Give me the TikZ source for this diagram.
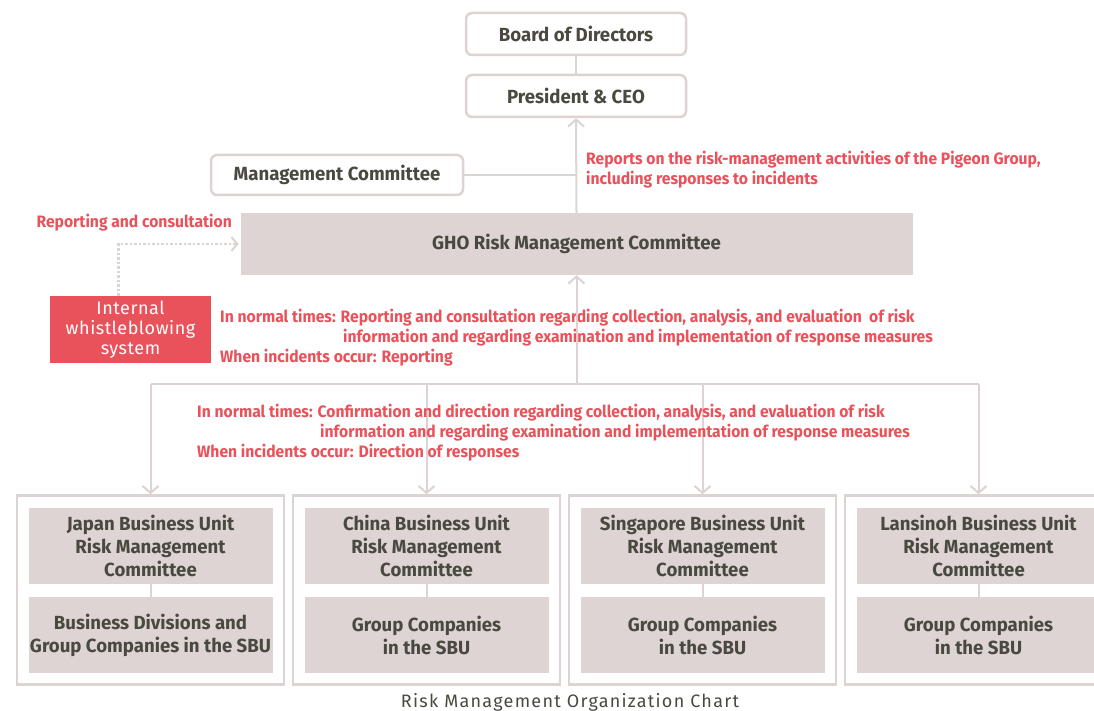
\documentclass[tikz,border=0pt]{standalone}
\usepackage{fontspec}
\setmainfont{Fira Sans}
\newfontfamily\narrowfont[FakeStretch=0.95]{Fira Sans}
\newfontfamily\boxfont[FakeStretch=0.98]{Fira Sans}
\newfontfamily\spacedfont[LetterSpace=7]{Fira Sans}
\newfontfamily\whistlefont[LetterSpace=3]{Fira Sans}
\usetikzlibrary{arrows.meta,positioning}
\definecolor{linegray}{HTML}{DDD3D2}
\definecolor{boxfill}{HTML}{DDD4D3}
\definecolor{textdark}{HTML}{4A4940}
\definecolor{pigeonred}{HTML}{E9525A}
\tikzset{
  topbox/.style={draw=linegray, line width=2.5pt, rounded corners=6pt, fill=white, align=center, text=textdark, minimum width=220pt, minimum height=42pt, font=\boxfont\bfseries\fontsize{19}{22}\selectfont},
  fillbox/.style={fill=boxfill, align=center, text=textdark, inner sep=0pt, font=\boxfont\bfseries\fontsize{19}{23}\selectfont},
  sbubox/.style={draw=linegray, line width=2.5pt, minimum width=267pt, minimum height=189pt},
  whistlebox/.style={fill=pigeonred, text=white, align=center, minimum width=161pt, minimum height=67pt, inner sep=0pt, font=\whistlefont\fontsize{18}{20}\selectfont},
  redtext/.style={text=pigeonred, align=left, inner sep=0pt, font=\narrowfont\bfseries\fontsize{16.5}{20}\selectfont},
  line/.style={draw=linegray, line width=2pt},
  arrow/.style={line, -{Straight Barb[length=7pt,width=16pt,line width=2pt]}},
  dotarrow/.style={draw=linegray, line width=2.5pt, dotted, -{Straight Barb[length=6pt,width=14pt,line width=2pt,sep]}}
}
\begin{document}
\begin{tikzpicture}[x=1pt, y=-1pt]
\useasboundingbox (0,0) rectangle (1094,711);
% top of the chart
\node[topbox] (board) at (576,34) {Board of Directors};
\node[topbox] (ceo) at (576,96) {President \& CEO};
\node[topbox, minimum width=252pt, minimum height=40pt] (mgmt) at (337,175) {Management Committee};
\node[fillbox, minimum width=672pt, minimum height=62pt] (gho) at (576.5,244) {GHO Risk Management Committee};
\node[whistlebox] (whistle) at (130.5,329.5) {Internal\\whistleblowing\\system};
\draw[line] (board) -- (ceo);
\draw[arrow] (gho.north) -- (ceo.south);
\draw[line] (mgmt.east) -- (mgmt.east -| ceo.south);
\draw[dotarrow] ([xshift=-12pt]whistle.north) |- (gho.west);
% texts
\node[redtext, anchor=west] (reports) at (586,170) {Reports on the risk-management activities of the Pigeon Group,\\including responses to incidents};
\node[redtext, anchor=east] (consult) at (232,223) {Reporting and consultation};
\node[redtext, anchor=west] (upnote) at (220,338) {In normal times: Reporting and consultation regarding collection, analysis, and evaluation\ \ of risk\\\hspace*{123pt}information and regarding examination and implementation of response measures\\When incidents occur: Reporting};
% business units
\coordinate (bar) at (576.5,384);
\foreach \i/\x/\top/\bottom in {1/150.5/{Japan Business Unit\\Risk Management\\Committee}/{Business Divisions and\\Group Companies in the SBU},
  2/426.5/{China Business Unit\\Risk Management\\Committee}/{Group Companies\\in the SBU},
  3/702.5/{Singapore Business Unit\\Risk Management\\Committee}/{Group Companies\\in the SBU},
  4/978.5/{Lansinoh Business Unit\\Risk Management\\Committee}/{Group Companies\\in the SBU}} {
  \node[sbubox] (sbu\i) at (\x,590) {};
  \node[fillbox, minimum width=244pt, minimum height=76pt] (rmc\i) at (\x,545.5) {\top};
  \node[fillbox, minimum width=244pt, minimum height=76pt] (grp\i) at (\x,635) {\bottom};
  \draw[line] (rmc\i) -- (grp\i);
  \draw[arrow] (sbu\i.north |- bar) -- (sbu\i.north);
}
\draw[line] (sbu1.north |- bar) -- (sbu4.north |- bar);
\draw[arrow] (bar) -- (gho.south);
\node[redtext, anchor=west] (downnote) at (197,433) {In normal times: Confirmation and direction regarding collection, analysis, and evaluation of risk\\\hspace*{123pt}information and regarding examination and implementation of response measures\\When incidents occur: Direction of responses};
\node[text=textdark, font=\spacedfont\fontsize{18}{20}\selectfont, inner sep=0pt] (caption) at (570,702) {Risk Management Organization Chart};
\end{tikzpicture}
\end{document}
